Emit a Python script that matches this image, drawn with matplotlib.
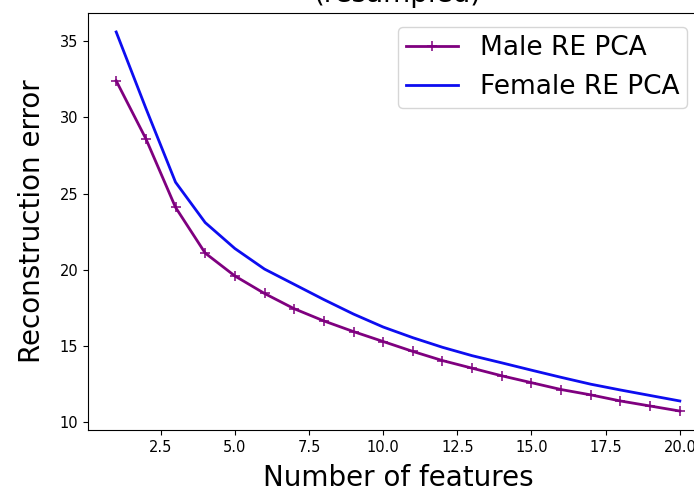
import matplotlib
matplotlib.use("Agg")
import matplotlib.pyplot as plt

n_features = list(range(1, 21))
male_re = [32.4, 28.6, 24.1, 21.1, 19.6, 18.45, 17.45, 16.65, 15.95, 15.3,
           14.65, 14.05, 13.55, 13.05, 12.6, 12.15, 11.8, 11.4, 11.07, 10.74]
female_re = [35.6, 30.6, 25.75, 23.1, 21.4, 20.05, 19.05, 18.05, 17.1, 16.25,
             15.55, 14.92, 14.37, 13.9, 13.42, 12.95, 12.5, 12.12, 11.76, 11.4]
title_text = "(resampled)"
xlabel_text = "Number of features"
ylabel_text = "Reconstruction error"
male_label = "Male RE PCA"
female_label = "Female RE PCA"

fig = plt.figure(figsize=(6.94, 4.91), dpi=100)
ax = fig.add_axes([88 / 694, (491 - 430) / 491, (708 - 88) / 694, (430 - 13) / 491])

ax.plot(n_features, male_re, color="#7f007f", marker="+", markersize=7,
        markeredgewidth=1.1, linewidth=2, label=male_label)
ax.plot(n_features, female_re, color="#0d0df0", linewidth=2, label=female_label)

ax.set_xticks([2.5, 5.0, 7.5, 10.0, 12.5, 15.0, 17.5, 20.0])
ax.set_yticks([10, 15, 20, 25, 30, 35])
ax.tick_params(labelsize=10.5)
ax.set_xlabel(xlabel_text, fontsize=20, labelpad=7)
ax.set_ylabel(ylabel_text, fontsize=20, labelpad=10)
ax.set_title(title_text, fontsize=20, pad=8)
ax.legend(fontsize=19, loc="upper right", bbox_to_anchor=(0.966, 0.966),
          borderaxespad=0, borderpad=0.3, handletextpad=0.8)

fig.savefig("out.png", dpi=100)
